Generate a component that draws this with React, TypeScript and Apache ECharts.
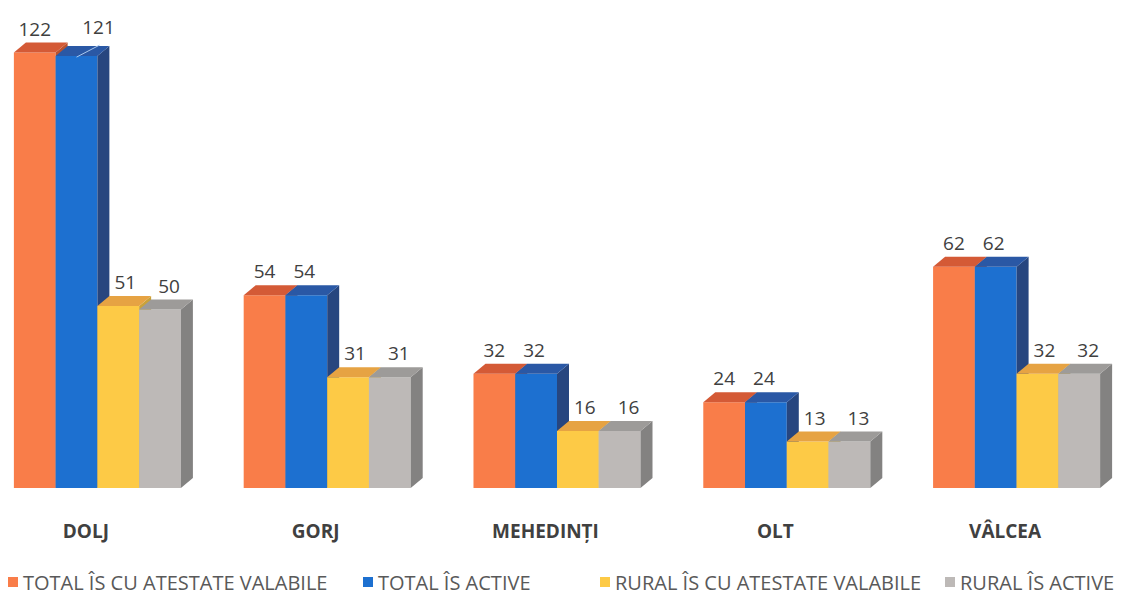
import React, { useEffect, useRef } from "react";
import * as echarts from "echarts";

const categories = ["DOLJ", "GORJ", "MEHEDINȚI", "OLT", "VÂLCEA"];
const seriesNames = [
  "TOTAL ÎS CU ATESTATE VALABILE",
  "TOTAL ÎS ACTIVE",
  "RURAL ÎS CU ATESTATE VALABILE",
  "RURAL ÎS ACTIVE",
];
const totalAtestate = [122, 54, 32, 24, 62];
const totalActive = [121, 54, 32, 24, 62];
const ruralAtestate = [51, 31, 16, 13, 32];
const ruralActive = [50, 31, 16, 13, 32];

const seriesValues = [totalAtestate, totalActive, ruralAtestate, ruralActive];

const palettes = [
  { front: "#F97D49", top: "#D45A36", side: "#B9522F" },
  { front: "#1D70D0", top: "#2A58A5", side: "#27467F" },
  { front: "#FDCA46", top: "#E6A343", side: "#C9A23A" },
  { front: "#BDB9B7", top: "#9D9B99", side: "#838281" },
];

const labelDx = [0, -2, 7, 9];
const legendLeft = [8, 363, 600, 945];

const FONT = "'Open Sans', 'Noto Sans', sans-serif";

export default function App() {
  const ref = useRef<HTMLDivElement>(null);

  useEffect(() => {
    if (!ref.current) return;
    const chart = echarts.init(ref.current, null, { renderer: "svg" });

    const DX = 12;
    const DY = 10;

    const makeRender = (si: number) => (params: any, api: any) => {
      const idx = api.value(0);
      const val = api.value(1);
      const topPt = api.coord([idx, val]);
      const basePt = api.coord([idx, 0]);
      const band = api.size([1, 0])[0];
      const w = band * 0.1817;
      const x0 = topPt[0] - band * (72 / 229.75) + si * w;
      const x1 = x0 + w;
      const yT = topPt[1];
      const yB = basePt[1];
      const pal = palettes[si];
      const children: any[] = [
        {
          type: "rect",
          shape: { x: x0, y: yT, width: w, height: yB - yT },
          style: { fill: pal.front },
        },
        {
          type: "polygon",
          shape: {
            points: [
              [x1, yT],
              [x1 + DX, yT - DY],
              [x1 + DX, yB - DY],
              [x1, yB],
            ],
          },
          style: { fill: pal.side },
        },
        {
          type: "polygon",
          shape: {
            points: [
              [x0, yT],
              [x0 + DX, yT - DY],
              [x1 + DX, yT - DY],
              [x1, yT],
            ],
          },
          style: { fill: pal.top },
        },
      ];
      const shifted = si === 1 && idx === 0;
      let lx = x0 + w / 2 + labelDx[si];
      let ly = yT - 24;
      if (shifted) {
        lx = x0 + w / 2 + 22;
        ly = topPt[1] - 29;
        children.push({
          type: "line",
          shape: { x1: x0 + w / 2, y1: yT + 1, x2: x0 + w / 2 + 23, y2: yT - 11 },
          style: { stroke: "#A9C8EE", lineWidth: 1 },
        });
      }
      children.push({
        type: "text",
        style: {
          text: String(val),
          x: lx,
          y: ly,
          align: "center",
          verticalAlign: "middle",
          fill: "#404040",
          font: `19px ${FONT}`,
        },
      });
      return { type: "group", children };
    };

    const option: any = {
      animation: false,
      backgroundColor: "#ffffff",
      grid: {
        left: -29,
        width: 1149,
        top: 24,
        bottom: 106,
        containLabel: false,
        outerBoundsMode: "none",
      },
      xAxis: {
        type: "category",
        data: categories,
        axisLine: { show: false },
        axisTick: { show: false },
        axisLabel: {
          margin: 33,
          color: "#404040",
          fontWeight: "bold",
          fontSize: 19,
          fontFamily: FONT,
        },
        splitLine: { show: false },
      },
      yAxis: {
        type: "value",
        min: 0,
        max: 130,
        show: false,
      },
      legend: seriesNames.map((n, i) => ({
        data: [n],
        left: legendLeft[i],
        top: 572,
        padding: 0,
        itemWidth: 10,
        itemHeight: 10,
        itemGap: 0,
        icon: "rect",
        selectedMode: false,
        textStyle: { fontFamily: FONT, fontSize: 20, color: "#595959" },
      })),
      series: seriesValues.map((vals, si) => ({
        type: "custom",
        name: seriesNames[si],
        itemStyle: { color: palettes[si].front },
        renderItem: makeRender(si),
        encode: { x: 0, y: 1 },
        data: vals.map((v, i) => [i, v]),
      })),
    };

    chart.setOption(option);
    return () => chart.dispose();
  }, []);

  return (
    <div
      ref={ref}
      style={{ position: "fixed", left: 0, top: 0, width: 1131, height: 594, background: "#fff" }}
    />
  );
}
